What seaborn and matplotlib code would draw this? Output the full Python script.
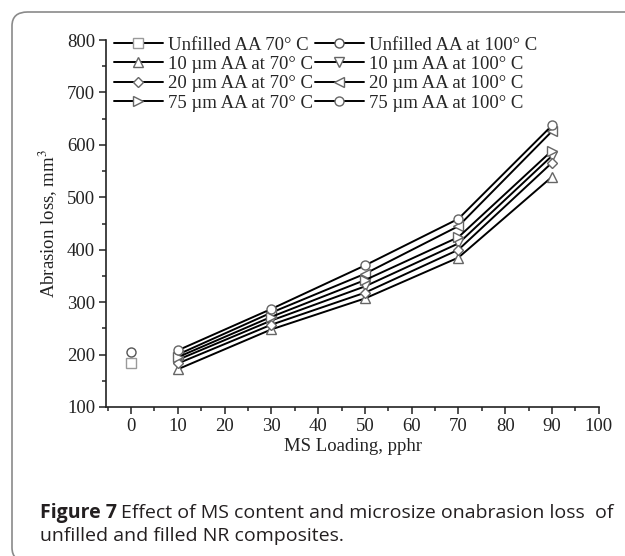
import pandas as pd
import matplotlib
matplotlib.use("Agg")
import matplotlib.pyplot as plt
import seaborn as sns
from matplotlib.patches import FancyBboxPatch
from matplotlib.ticker import MultipleLocator

loading = [10, 30, 50, 70, 90]
unfilled_70 = [183]
unfilled_100 = [205]
um10_70 = [172, 248, 307, 385, 539]
um10_100 = [190, 265, 330, 412, 579]
um20_70 = [183, 257, 318, 400, 566]
um20_100 = [200, 280, 354, 445, 626]
um75_70 = [195, 272, 342, 424, 589]
um75_100 = [208, 287, 370, 459, 637]

series = [
    ("Unfilled AA 70° C", [0], unfilled_70, "s", "#9a9a9a"),
    ("Unfilled AA at 100° C", [0], unfilled_100, "o", "#555555"),
    ("10 µm AA at 70° C", loading, um10_70, "^", "#666666"),
    ("10 µm AA at 100° C", loading, um10_100, "v", "#666666"),
    ("20 µm AA at 70° C", loading, um20_70, "D", "#666666"),
    ("20 µm AA at 100° C", loading, um20_100, "<", "#666666"),
    ("75 µm AA at 70° C", loading, um75_70, ">", "#666666"),
    ("75 µm AA at 100° C", loading, um75_100, "o", "#666666"),
]

sns.set_style("ticks")
plt.rcParams["font.family"] = ["Liberation Serif", "DejaVu Serif"]
plt.rcParams["mathtext.fontset"] = "stix"

fig = plt.figure(figsize=(6.25, 5.56), dpi=100)
ax = fig.add_axes([0.170, 0.268, 0.788, 0.660])

for name, xs, ys, mk, ec in series:
    df = pd.DataFrame({"x": xs, "y": ys})
    ms = 5.5 if mk == "D" else 6.5
    sns.lineplot(ax=ax, data=df, x="x", y="y", color="black", lw=1.4,
                 marker=mk, markersize=ms, markerfacecolor="white",
                 markeredgecolor=ec, markeredgewidth=1.0, label=name)
h, l = ax.get_legend_handles_labels()
handles = dict(zip(l, h))

# row-wise order like the original (matplotlib fills columns first)
order = [0, 2, 4, 6, 1, 3, 5, 7]
names = [series[i][0] for i in order]
ax.legend([handles[n] for n in names], names, loc="upper left",
          bbox_to_anchor=(0.0, 1.03), ncol=2, frameon=False,
          fontsize=13.5, handlelength=2.6, handletextpad=0.3,
          columnspacing=0.1, labelspacing=0.12, borderaxespad=0.0)

ax.set_xlim(-5.3, 100)
ax.set_ylim(100, 800)
ax.xaxis.set_major_locator(MultipleLocator(10))
ax.xaxis.set_minor_locator(MultipleLocator(5))
ax.yaxis.set_major_locator(MultipleLocator(100))
ax.yaxis.set_minor_locator(MultipleLocator(50))
ax.tick_params(which="major", length=5, width=1.1, labelsize=13.5, colors="#222222", pad=3)
ax.tick_params(which="minor", length=3, width=1.1, colors="#222222")
for s in ["top", "right"]:
    ax.spines[s].set_visible(False)
for s in ["left", "bottom"]:
    ax.spines[s].set_linewidth(1.2)
    ax.spines[s].set_color("#222222")
ax.set_xlabel("MS Loading, pphr", fontsize=13.5, color="#222222", labelpad=2)
ax.set_ylabel("Abrasion loss, mm$^3$", fontsize=13.5, color="#222222", labelpad=5)

frame = FancyBboxPatch((12 / 625, -0.01), 1.1, 1 - 12 / 556 + 0.01,
                       boxstyle="round,pad=0,rounding_size=0.025",
                       transform=fig.transFigure, fill=False,
                       edgecolor="#8a8a8a", lw=1.2, clip_on=False)
fig.patches.append(frame)

cap_font = ["Open Sans", "DejaVu Sans"]
fig.canvas.draw()
r = fig.canvas.get_renderer()
t1 = fig.text(40 / 625, 1 - 513 / 556, "Figure 7", fontsize=14, weight="bold",
              family=cap_font, color="#231f20", va="center")
bb = t1.get_window_extent(renderer=r)
fig.text(bb.x1 / 625 + 0.007, 1 - 513 / 556,
         "Effect of MS content and microsize onabrasion loss  of",
         fontsize=14, family=cap_font, color="#231f20", va="center")
fig.text(40 / 625, 1 - 536 / 556, "unfilled and filled NR composites.",
         fontsize=14, family=cap_font, color="#231f20", va="center")

fig.savefig("out.png", dpi=100)
